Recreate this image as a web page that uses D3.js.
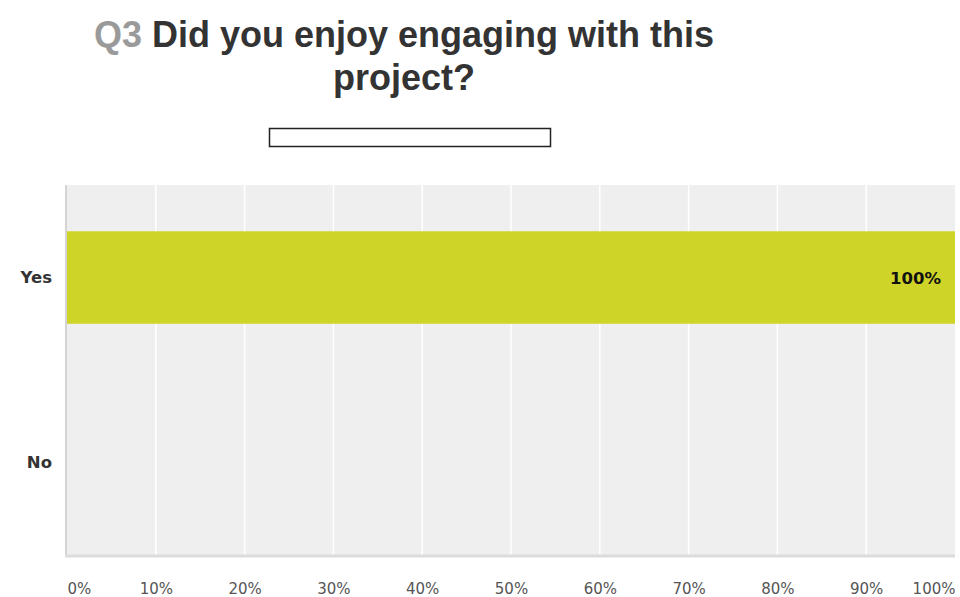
<!DOCTYPE html>
<html>
<head>
<meta charset="utf-8">
<script src="https://cdn.jsdelivr.net/npm/d3@7"></script>
<style>
  body { margin: 0; background: #fff; }
  svg { display: block; font-family: "Liberation Sans", Arial, sans-serif; }
  .tick-x text { font-family: "DejaVu Sans", Verdana, sans-serif; }
</style>
</head>
<body>
<script>
// chart values
var categories = ['Yes', 'No'];
var values = [100, 0];
var tickValues = [0, 10, 20, 30, 40, 50, 60, 70, 80, 90, 100];
var titleNumber = 'Q3';
var titleLines = ['Did you enjoy engaging with this', 'project?'];

var w = 960, h = 597;
var plot = { left: 67, right: 955, top: 185, bottom: 555 };

var svg = d3.select('body').append('svg')
  .attr('width', w)
  .attr('height', h);

var x = d3.scaleLinear()
  .domain([0, 100])
  .range([plot.left, plot.right]);

var y = d3.scaleBand()
  .domain(categories)
  .range([plot.top, plot.bottom])
  .paddingInner(0.5)
  .paddingOuter(0.25);

// background
svg.append('rect')
  .attr('x', plot.left)
  .attr('y', plot.top)
  .attr('width', plot.right - plot.left)
  .attr('height', plot.bottom - plot.top)
  .attr('fill', '#efefef');

// gridlines
svg.append('g')
  .selectAll('line')
  .data(tickValues.slice(1, -1))
  .enter()
  .append('line')
  .attr('x1', d => x(d))
  .attr('x2', d => x(d))
  .attr('y1', plot.top)
  .attr('y2', plot.bottom)
  .attr('stroke', '#fff')
  .attr('stroke-width', 1.5);

// bars
svg.append('g')
  .selectAll('rect')
  .data(categories)
  .enter()
  .append('rect')
  .attr('x', x(0))
  .attr('y', d => y(d))
  .attr('width', (d, i) => x(values[i]) - x(0))
  .attr('height', y.bandwidth())
  .attr('fill', '#cfd528');

// value labels
svg.append('g')
  .selectAll('text')
  .data(categories.filter((d, i) => values[i] > 0))
  .enter()
  .append('text')
  .attr('x', d => x(values[categories.indexOf(d)]) - 14)
  .attr('y', d => y(d) + y.bandwidth() / 2 + 6)
  .attr('text-anchor', 'end')
  .attr('font-family', '"DejaVu Sans", Verdana, sans-serif')
  .attr('font-size', 16.5)
  .attr('font-weight', 'bold')
  .attr('fill', '#111')
  .text(d => values[categories.indexOf(d)] + '%');

// axis lines
svg.append('line')
  .attr('x1', plot.left - 1).attr('x2', plot.left - 1)
  .attr('y1', plot.top).attr('y2', plot.bottom + 2)
  .attr('stroke', '#d4d4d4').attr('stroke-width', 2);
svg.append('line')
  .attr('x1', plot.left - 2).attr('x2', plot.right)
  .attr('y1', plot.bottom + 1).attr('y2', plot.bottom + 1)
  .attr('stroke', '#dcdcdc').attr('stroke-width', 3);

// y axis
var yAxis = d3.axisLeft(y).tickSize(0).tickPadding(15);
var gy = svg.append('g')
  .attr('transform', 'translate(' + plot.left + ',0)')
  .call(yAxis);
gy.select('.domain').remove();
gy.selectAll('text')
  .attr('font-family', '"DejaVu Sans", Verdana, sans-serif')
  .attr('font-size', 16.5)
  .attr('font-weight', 'bold')
  .attr('fill', '#333')
  .attr('dy', '0.35em');

// x axis
var xAxis = d3.axisBottom(x)
  .tickValues(tickValues)
  .tickFormat(d => d + '%')
  .tickSize(0)
  .tickPadding(28);
var gx = svg.append('g')
  .attr('class', 'tick-x')
  .attr('transform', 'translate(0,' + plot.bottom + ')')
  .call(xAxis);
gx.select('.domain').remove();
gx.selectAll('text')
  .attr('font-size', 15)
  .attr('fill', '#555')
  .attr('text-anchor', (d, i) => i === 0 ? 'start' : (i === tickValues.length - 1 ? 'end' : 'middle'));

// title
var title = svg.append('text')
  .attr('x', 404)
  .attr('y', 47)
  .attr('text-anchor', 'middle')
  .attr('font-size', 36)
  .attr('font-weight', 'bold');
title.append('tspan').attr('fill', '#9a9a9a').text(titleNumber + ' ');
title.append('tspan').attr('fill', '#333').text(titleLines[0]);
svg.append('text')
  .attr('x', 404)
  .attr('y', 90)
  .attr('text-anchor', 'middle')
  .attr('font-size', 36)
  .attr('font-weight', 'bold')
  .attr('fill', '#333')
  .text(titleLines[1]);

// empty legend box
svg.append('rect')
  .attr('x', 269.5)
  .attr('y', 128.5)
  .attr('width', 281)
  .attr('height', 18)
  .attr('fill', '#fff')
  .attr('stroke', '#222')
  .attr('stroke-width', 1.5);
</script>
</body>
</html>
